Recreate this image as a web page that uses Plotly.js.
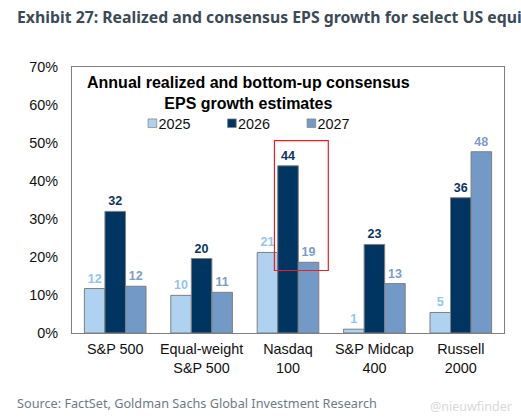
<!DOCTYPE html>
<html><head><meta charset="utf-8">
<script src="https://cdn.plot.ly/plotly-3.0.1.min.js"></script>
<style>html,body{margin:0;padding:0;background:#fff;overflow:hidden}
.legend .legendpoints path{transform:translate(34px,0) scale(.72)}</style>
</head><body><div id="chart" style="width:521px;height:420px"></div>
<script>
const categories = ["S&P 500","Equal-weight<br>S&P 500","Nasdaq<br>100","S&P Midcap<br>400","Russell<br>2000"];
const values2025 = [11.7,9.9,21.2,1.0,5.4];
const values2026 = [32.0,19.6,44.0,23.3,35.6];
const values2027 = [12.3,10.7,18.6,13.0,47.7];
const labels2025 = ["12","10","21","1","5"];
const labels2026 = ["32","20","44","23","36"];
const labels2027 = ["12","11","19","13","48"];
const yTicks = [0,10,20,30,40,50,60,70];
const yTickLabels = yTicks.map(v => v + "%");
const arial = "Liberation Sans, Arial, sans-serif";
const grey = "#7f7f7f";
function series(name, y, text, color, textColor, bold){
  return {type:"bar", name, x:categories, y, text, textposition:"outside", cliponaxis:false,
    marker:{color, line:{color:grey, width:1}},
    textfont:{family:arial, size:12.5, color:textColor, weight:bold?700:400}, hoverinfo:"skip"};
}
const data = [
  series("2025", values2025, labels2025, "#aed2ef", "#93c4ee", true),
  series("2026", values2026, labels2026, "#003561", "#0b3560", true),
  series("2027", values2027, labels2027, "#7399c6", "#7d9bcb", true)
];
const layout = {
  width:521, height:420, paper_bgcolor:"#fff", plot_bgcolor:"#fff",
  margin:{l:71.5,r:16.7,t:66.5,b:87,pad:0,autoexpand:false},
  barmode:"group", bargap:0.287, bargroupgap:0,
  title:{text:"<b>Exhibit 27: Realized and consensus EPS growth for select US equi</b>",
    x:17/521, xanchor:"left", y:1-17/420, yanchor:"middle",
    font:{family:"Noto Sans, sans-serif", size:15.8, color:"#3b4a55"}},
  xaxis:{showline:true, linecolor:grey, linewidth:1, mirror:true, ticks:"", tickangle:0, ticklabelstandoff:3,
    tickfont:{family:arial, size:14.4, color:"#111"}, showgrid:false, zeroline:false, fixedrange:true},
  yaxis:{range:[0,70], tickvals:yTicks, ticktext:yTickLabels, showline:true, linecolor:grey, linewidth:1, mirror:true,
    ticks:"", ticklabelstandoff:10, tickfont:{family:arial, size:14.4, color:"#111"}, showgrid:false, zeroline:false, fixedrange:true},
  legend:{orientation:"h", x:(118-71.5)/432.8, xanchor:"left", y:(333-123)/266.5, yanchor:"middle", entrywidth:34.5, entrywidthmode:"pixels",
    bgcolor:"rgba(0,0,0,0)", font:{family:arial, size:14.4, color:"#111"}, traceorder:"normal"},
  shapes:[{type:"rect", xref:"paper", yref:"paper", x0:0.4686, x1:0.5933, y0:0.235, y1:0.723,
    line:{color:"#ee1c25", width:1.2}, fillcolor:"rgba(0,0,0,0)"}],
  annotations:[
    {text:"<b>Annual realized and bottom-up consensus</b><br><b>EPS growth estimates</b>", xref:"paper", yref:"paper",
      x:(248-71.5)/432.8, y:(333-92.5)/266.5, xanchor:"center", yanchor:"middle", align:"center", showarrow:false,
      font:{family:arial, size:16, color:"#000"}},
    {text:"Source: FactSet, Goldman Sachs Global Investment Research", xref:"paper", yref:"paper",
      x:(14-71.5)/432.8, y:(333-403)/266.5, xanchor:"left", yanchor:"middle", showarrow:false,
      font:{family:"Noto Sans, sans-serif", size:12.7, color:"#6e7b85"}},
    {text:"@nieuwfinder", xref:"paper", yref:"paper",
      x:(428-71.5)/432.8, y:(333-407)/266.5, xanchor:"left", yanchor:"middle", showarrow:false,
      font:{family:"Noto Sans, sans-serif", size:12.5, color:"#d9d9d9"}}
  ]
};
Plotly.newPlot("chart", data, layout, {displayModeBar:false, staticPlot:true});
</script></body></html>
